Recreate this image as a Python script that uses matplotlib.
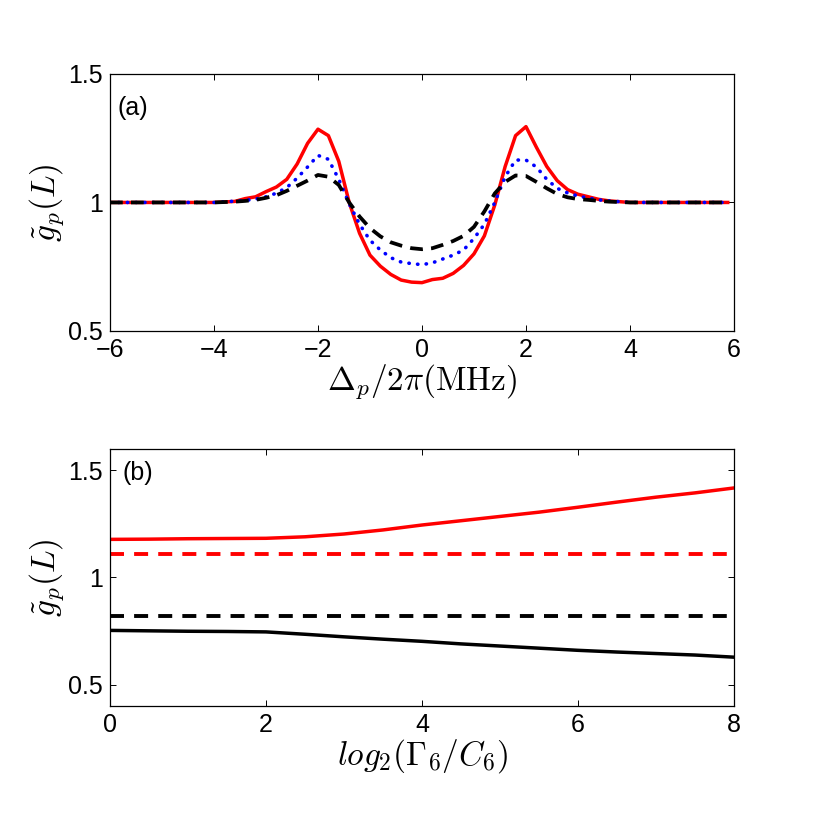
import matplotlib
matplotlib.use('Agg')
import matplotlib.pyplot as plt

plt.rcParams['font.family'] = ['Liberation Sans', 'DejaVu Sans']
plt.rcParams['mathtext.fontset'] = 'cm'

# panel (a): detuning grid and the three curves
delta = [-6, -5, -4.4, -4, -3.6, -3.4, -3.2, -3.0, -2.8, -2.6, -2.4, -2.2, -2.0,
         -1.8, -1.6, -1.4, -1.2, -1.0, -0.8, -0.6, -0.4, -0.2, 0, 0.2, 0.4, 0.6,
         0.8, 1.0, 1.2, 1.4, 1.6, 1.8, 2.0, 2.2, 2.4, 2.6, 2.8, 3.0, 3.2, 3.4,
         3.6, 4.0, 4.4, 5, 5.88]
g_red = [1.0, 1.0, 1.0, 1.0, 1.004, 1.015, 1.022, 1.042, 1.06, 1.09, 1.15, 1.23, 1.285,
         1.26, 1.16, 1.0, 0.88, 0.795, 0.752, 0.72, 0.698, 0.69, 0.688, 0.70, 0.705, 0.724,
         0.755, 0.80, 0.87, 0.99, 1.14, 1.26, 1.295, 1.215, 1.14, 1.085, 1.05, 1.032, 1.022, 1.012,
         1.006, 1.0, 1.0, 1.0, 1.0]
g_blue = [1.0, 1.0, 1.0, 1.0, 1.005, 1.008, 1.013, 1.022, 1.036, 1.058, 1.095, 1.138, 1.183,
          1.168, 1.09, 0.995, 0.915, 0.853, 0.815, 0.785, 0.768, 0.762, 0.758, 0.765, 0.78, 0.795,
          0.815, 0.86, 0.915, 1.0, 1.1, 1.165, 1.165, 1.138, 1.09, 1.055, 1.037, 1.025, 1.017, 1.01,
          1.006, 1.0, 1.0, 1.0, 1.0]
g_black = [1.0, 1.0, 1.0, 1.0, 1.003, 1.006, 1.01, 1.018, 1.028, 1.045, 1.065, 1.085, 1.107,
           1.10, 1.068, 1.0, 0.945, 0.90, 0.868, 0.845, 0.832, 0.822, 0.818, 0.822, 0.835, 0.85,
           0.87, 0.905, 0.965, 1.035, 1.08, 1.105, 1.103, 1.08, 1.055, 1.033, 1.02, 1.013, 1.01, 1.006,
           1.003, 1.0, 1.0, 1.0, 1.0]

# panel (b): log2(Gamma6/C6)
ratio = [0, 0.5, 1, 1.5, 2, 2.5, 3, 3.5, 4, 4.5, 5, 5.5, 6, 6.5, 7, 7.5, 8]
peak_red = [1.178, 1.179, 1.181, 1.182, 1.183, 1.19, 1.203, 1.222, 1.245, 1.265, 1.285,
            1.305, 1.328, 1.352, 1.375, 1.395, 1.418]
dip_black = [0.753, 0.751, 0.749, 0.748, 0.746, 0.735, 0.723, 0.712, 0.702, 0.69, 0.68,
             0.67, 0.66, 0.652, 0.645, 0.638, 0.628]
peak_ref = 1.111
dip_ref = 0.821

fig = plt.figure(figsize=(8.27, 8.27), dpi=100)
ax1 = fig.add_axes([0.133, 0.5998, 0.7545, 0.3108])
ax2 = fig.add_axes([0.133, 0.1463, 0.7545, 0.3108])

ax1.plot(delta, g_red, color='red', lw=2.5)
ax1.plot(delta, g_blue, color='blue', lw=2.6, linestyle=(0, (0.1, 2.3)), dash_capstyle='round')
ax1.plot(delta, g_black, color='black', lw=2.7, dashes=(3.4, 2.2))
ax1.set_xlim(-6, 6)
ax1.set_ylim(0.5, 1.5)
ax1.set_xticks([-6, -4, -2, 0, 2, 4, 6])
ax1.set_xticklabels(['\u22126', '\u22124', '\u22122', '0', '2', '4', '6'])
ax1.set_yticks([0.5, 1, 1.5])
ax1.set_yticklabels(['0.5', '1', '1.5'])
ax1.set_xlabel(r'$\Delta_p/2\pi(\mathrm{MHz})$', fontsize=24, labelpad=0)
ax1.set_ylabel(r'$\tilde{g}_p(L)$', fontsize=24, labelpad=2)
ax1.text(0.012, 0.868, '(a)', transform=ax1.transAxes, fontsize=18, ha='left', va='center')

ax2.plot(ratio, peak_red, color='red', lw=2.5)
ax2.axhline(peak_ref, color='red', lw=2.8, dashes=(3.6, 2.6))
ax2.axhline(dip_ref, color='black', lw=2.8, dashes=(3.6, 2.6))
ax2.plot(ratio, dip_black, color='black', lw=2.5)
ax2.set_xlim(0, 8)
ax2.set_ylim(0.4, 1.6)
ax2.set_xticks([0, 2, 4, 6, 8])
ax2.set_yticks([0.5, 1, 1.5])
ax2.set_yticklabels(['0.5', '1', '1.5'])
ax2.set_xlabel(r'$log_2(\Gamma_6/C_6)$', fontsize=24, labelpad=0)
ax2.set_ylabel(r'$\tilde{g}_p(L)$', fontsize=24, labelpad=2)
ax2.text(0.02, 0.907, '(b)', transform=ax2.transAxes, fontsize=18, ha='left', va='center')

for ax in (ax1, ax2):
    ax.tick_params(direction='in', top=True, right=True, length=4, width=0.7,
                   labelsize=18, pad=5)
    for s in ax.spines.values():
        s.set_linewidth(0.9)

fig.savefig('out.png', dpi=100)
